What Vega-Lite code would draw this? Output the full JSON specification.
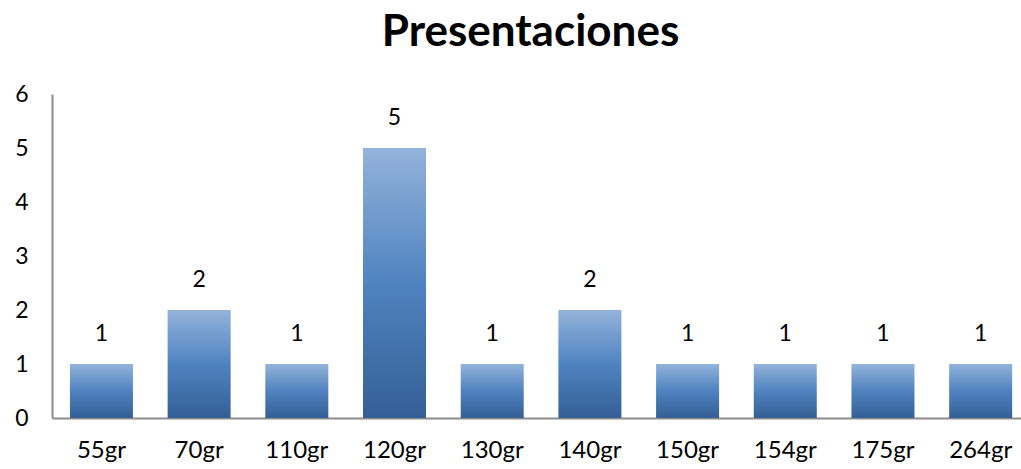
{
  "$schema": "https://vega.github.io/schema/vega-lite/v6.json",
  "autosize": {"type": "none"},
  "padding": {"left": 52, "top": 94, "right": 0, "bottom": 51},
  "width": 969,
  "height": 324,
  "background": "white",
  "title": {"text": "Presentaciones", "font": "Lato", "fontSize": 44, "fontWeight": "bold", "color": "#000000", "anchor": "middle", "frame": "group", "dx": -6, "offset": 0, "baseline": "alphabetic", "dy": 7},
  "config": {"view": {"stroke": null}, "font": "Lato"},
  "data": {"values": [
    {"peso": "55gr", "n": 1},
    {"peso": "70gr", "n": 2},
    {"peso": "110gr", "n": 1},
    {"peso": "120gr", "n": 5},
    {"peso": "130gr", "n": 1},
    {"peso": "140gr", "n": 2},
    {"peso": "150gr", "n": 1},
    {"peso": "154gr", "n": 1},
    {"peso": "175gr", "n": 1},
    {"peso": "264gr", "n": 1}
  ]},
  "encoding": {
    "x": {"field": "peso", "type": "nominal", "sort": null,
      "scale": {"paddingInner": 0.355, "paddingOuter": 0.137, "align": 0.67},
      "axis": {"title": null, "labelAngle": 0, "labelFontSize": 24, "labelColor": "#000000", "labelPadding": 20, "ticks": false, "domainColor": "#8c8c8c", "domainWidth": 2, "grid": false}},
    "y": {"field": "n", "type": "quantitative",
      "scale": {"domain": [0, 6], "nice": false},
      "axis": {"title": null, "values": [0,1,2,3,4,5,6], "labelFontSize": 23, "labelColor": "#000000", "labelPadding": 24, "ticks": false, "domainColor": "#8c8c8c", "domainWidth": 2, "grid": false}}
  },
  "layer": [
    {"mark": {"type": "bar", "color": {"gradient": "linear", "x1": 0, "y1": 0, "x2": 0, "y2": 1, "stops": [{"offset": 0, "color": "#93b3da"}, {"offset": 0.5, "color": "#4f83c0"}, {"offset": 1, "color": "#345f95"}]}}},
    {"mark": {"type": "text", "baseline": "bottom", "dy": -18, "fontSize": 23, "color": "#000000"},
     "encoding": {"text": {"field": "n", "type": "quantitative"}}}
  ]
}
